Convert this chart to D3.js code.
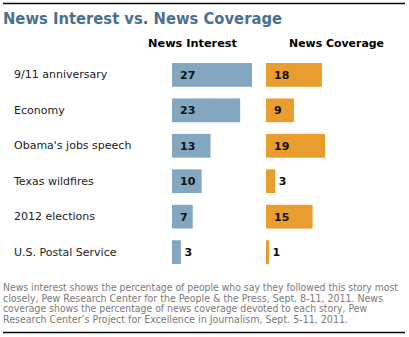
<!DOCTYPE html>
<html><head><meta charset="utf-8">
<script src="https://cdn.jsdelivr.net/npm/d3@7/dist/d3.min.js"></script>
<style>body{margin:0;background:#fff}svg{display:block}</style>
</head><body>
<script>
const categories = ["9/11 anniversary","Economy","Obama's jobs speech","Texas wildfires","2012 elections","U.S. Postal Service"];
const interest = [27,23,13,10,7,3];
const coverage = [18,9,19,3,15,1];
const title = "News Interest vs. News Coverage";
const seriesNames = ["News Interest","News Coverage"];
const footnote = [
 "News interest shows the percentage of people who say they followed this story most",
 "closely, Pew Research Center for the People & the Press, Sept. 8-11, 2011. News",
 "coverage shows the percentage of news coverage devoted to each story, Pew",
 "Research Center\u2019s Project for Excellence in Journalism, Sept. 5-11, 2011."
];

const W=409,H=337;
const svg=d3.select("body").append("svg").attr("width",W).attr("height",H);
const font="Verdana, 'DejaVu Sans', sans-serif";

function fit(sel,target){
  const n=sel.node(); const l=n.getComputedTextLength();
  if(Math.abs(l-target)>1) sel.attr("textLength",target).attr("lengthAdjust","spacingAndGlyphs");
}

svg.append("line").attr("x1",3).attr("x2",405).attr("y1",3.5).attr("y2",3.5).attr("stroke","#000").attr("stroke-width",1.5);
svg.append("line").attr("x1",3).attr("x2",405).attr("y1",332.5).attr("y2",332.5).attr("stroke","#000").attr("stroke-width",1.5);

const t=svg.append("text").attr("x",3).attr("y",24).text(title)
 .attr("font-family",font).attr("font-weight","bold").attr("font-size",15).attr("fill","#4a6f8f");
fit(t,279);

const y=d3.scaleBand().domain(categories).range([63,264]).paddingInner(0.33).paddingOuter(0);
const xI=d3.scaleLinear().domain([0,27]).range([172,252]);
const xC=d3.scaleLinear().domain([0,19]).range([266,325]);

const h1=svg.append("text").attr("x",148).attr("y",47).text(seriesNames[0]).attr("font-family",font).attr("font-weight","bold").attr("font-size",10.5).attr("fill","#000");
fit(h1,89);
const h2=svg.append("text").attr("x",289).attr("y",47).text(seriesNames[1]).attr("font-family",font).attr("font-weight","bold").attr("font-size",10.5).attr("fill","#000");
fit(h2,95);

const rows=categories.map((c,i)=>({c,i:interest[i],v:coverage[i]}));

svg.selectAll(".cat").data(rows).join("text").attr("class","cat")
 .attr("x",14).attr("y",d=>y(d.c)+y.bandwidth()/2+3.5).text(d=>d.c)
 .attr("font-family",font).attr("font-size",11).attr("fill","#222");

function series(data,acc,x,color){
  svg.selectAll(null).data(data).join("rect")
   .attr("x",x(0)).attr("y",d=>y(d.c)).attr("width",d=>x(acc(d))-x(0)).attr("height",y.bandwidth()).attr("fill",color);
  svg.selectAll(null).data(data).join("text")
   .attr("x",d=>acc(d)>=5? x(0)+8 : x(acc(d))+3.5)
   .attr("y",d=>y(d.c)+y.bandwidth()/2+4).text(d=>acc(d))
   .attr("font-family",font).attr("font-weight","bold").attr("font-size",11).attr("fill","#111");
}
series(rows,d=>d.i,xI,"#84a7c1");
series(rows,d=>d.v,xC,"#e99d2e");

const fw=[395,380,364,345];
footnote.forEach((s,k)=>{
  const ft=svg.append("text").attr("x",3).attr("y",291+k*10.5).text(s)
   .attr("font-family","Tahoma, 'DejaVu Sans Condensed', 'DejaVu Sans', sans-serif").attr("font-size",10).attr("fill","#7a7a7a");
  fit(ft,fw[k]);
});
</script>
</body></html>
